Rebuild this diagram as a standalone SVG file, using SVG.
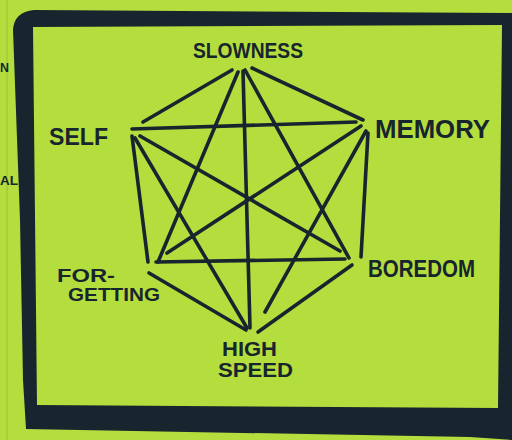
<svg xmlns="http://www.w3.org/2000/svg" width="512" height="440" viewBox="0 0 512 440">
<style>
.bg{fill:#b3de3d}
.ink{fill:#18252e}
.edge{stroke:#18252e;stroke-width:3.6;stroke-linecap:round;fill:none}
.lbl{font-family:"Liberation Sans",Arial,sans-serif;font-weight:bold;fill:#18252e}
</style>
<rect class="bg" x="0" y="0" width="512" height="440"/>
<line x1="7" y1="0" x2="7" y2="440" stroke="#9cc23a" stroke-width="1"/>
<text class="lbl" x="0" y="72" font-size="13" textLength="9" lengthAdjust="spacingAndGlyphs">N</text>
<text class="lbl" x="0" y="185" font-size="12" textLength="18" lengthAdjust="spacingAndGlyphs">AL</text>
<path class="ink" fill-rule="evenodd" d="M13,30 Q14,12 34,10 L512,13 L512,440 L470,437 L26,429 L23,380 L20,220 Z M33,27 L502,25 L498,408 L37,405 Z"/>
<g id="connectors">
<line class="edge" x1="232" y1="70" x2="143" y2="122"/>
<line class="edge" x1="252" y1="68" x2="363" y2="120"/>
<line class="edge" x1="238" y1="72" x2="158" y2="262"/>
<line class="edge" x1="243" y1="71" x2="250" y2="328"/>
<line class="edge" x1="245" y1="70" x2="349" y2="258"/>
<line class="edge" x1="132" y1="129" x2="356" y2="122"/>
<line class="edge" x1="132" y1="136" x2="148" y2="262"/>
<line class="edge" x1="140" y1="136" x2="340" y2="251"/>
<line class="edge" x1="135" y1="138" x2="247" y2="328"/>
<line class="edge" x1="361" y1="126" x2="167" y2="253"/>
<line class="edge" x1="366" y1="131" x2="265" y2="312"/>
<line class="edge" x1="368" y1="133" x2="361" y2="257"/>
<line class="edge" x1="156" y1="262" x2="345" y2="259"/>
<line class="edge" x1="149" y1="273" x2="246" y2="330"/>
<line class="edge" x1="352" y1="265" x2="258" y2="332"/>
</g>
<g id="slowness"><text class="lbl" x="193" y="58" font-size="22" textLength="110" lengthAdjust="spacingAndGlyphs">SLOWNESS</text></g>
<g id="self"><text class="lbl" x="49" y="145" font-size="23" textLength="59" lengthAdjust="spacingAndGlyphs">SELF</text></g>
<g id="memory"><text class="lbl" x="375" y="138" font-size="25" textLength="115" lengthAdjust="spacingAndGlyphs">MEMORY</text></g>
<g id="forgetting"><text class="lbl" x="57" y="282" font-size="19" textLength="58" lengthAdjust="spacingAndGlyphs">FOR-</text><text class="lbl" x="68" y="301" font-size="19" textLength="92" lengthAdjust="spacingAndGlyphs">GETTING</text></g>
<g id="boredom"><text class="lbl" x="368" y="277" font-size="23" textLength="107" lengthAdjust="spacingAndGlyphs">BOREDOM</text></g>
<g id="highspeed"><text class="lbl" x="222" y="356" font-size="21" textLength="55" lengthAdjust="spacingAndGlyphs">HIGH</text><text class="lbl" x="218" y="377" font-size="21" textLength="75" lengthAdjust="spacingAndGlyphs">SPEED</text></g>
</svg>
